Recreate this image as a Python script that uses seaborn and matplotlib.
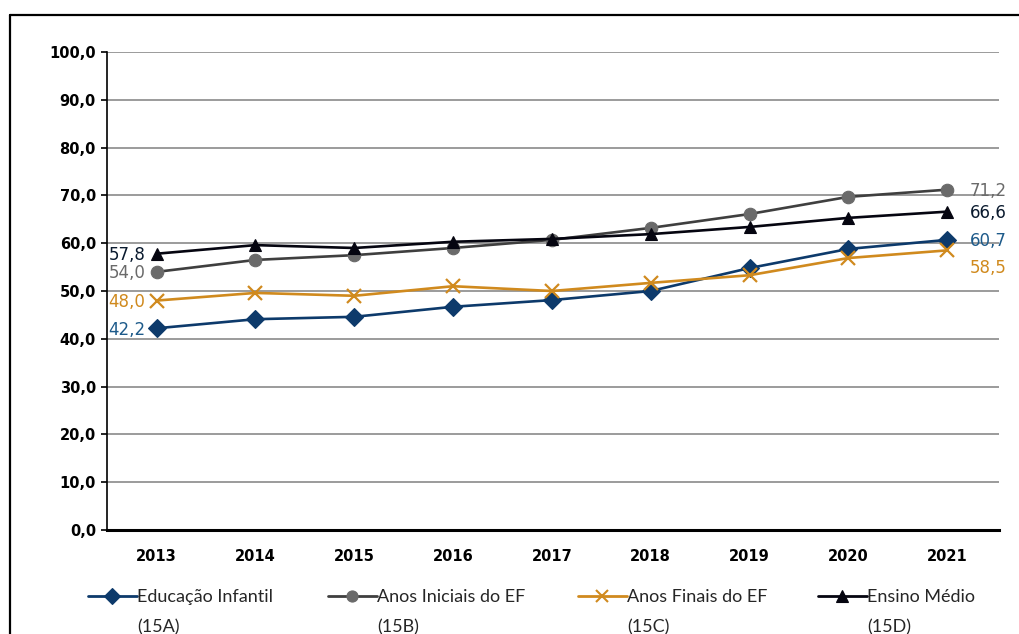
import pandas as pd
import matplotlib.pyplot as plt
import seaborn as sns
from matplotlib.lines import Line2D

# values
years = [2013, 2014, 2015, 2016, 2017, 2018, 2019, 2020, 2021]
educacao_infantil = [42.2, 44.1, 44.6, 46.7, 48.1, 50.0, 54.8, 58.8, 60.7]
anos_iniciais = [54.0, 56.5, 57.5, 59.0, 60.7, 63.2, 66.1, 69.7, 71.2]
anos_finais = [48.0, 49.6, 49.0, 51.0, 50.0, 51.7, 53.3, 56.9, 58.5]
ensino_medio = [57.8, 59.6, 59.0, 60.3, 60.9, 61.9, 63.4, 65.3, 66.6]

series_names = ["Educação Infantil", "Anos Iniciais do EF", "Anos Finais do EF", "Ensino Médio"]
series_codes = ["(15A)", "(15B)", "(15C)", "(15D)"]
line_colors = ["#0d3a6b", "#3f3f3f", "#d08a1e", "#050510"]
marker_colors = ["#0d3a6b", "#6a6a6a", "#d08a1e", "#050510"]
label_colors = ["#1d5a8a", "#6a6a6a", "#d08a1e", "#0a1a2e"]
markers = ["D", "o", "x", "^"]

rows = []
for name, vals in zip(series_names, [educacao_infantil, anos_iniciais, anos_finais, ensino_medio]):
    for yr, v in zip(years, vals):
        rows.append({"Ano": yr, "Valor": v, "Serie": name})
df = pd.DataFrame(rows)

sns.set_style("white")
plt.rcParams["font.family"] = ["DejaVu Sans"]
leg_font = ["Lato", "DejaVu Sans"]

fig = plt.figure(figsize=(10.2, 6.34), dpi=100)
ax = fig.add_axes([0.105, 0.164, 0.874, 0.754])

for name, lc, mc, mk in zip(series_names, line_colors, marker_colors, markers):
    sub = df[df["Serie"] == name]
    sns.lineplot(data=sub, x="Ano", y="Valor", ax=ax, color=lc, linewidth=1.9,
                 marker=mk, markersize=9 if mk != "x" else 10,
                 markerfacecolor=mc, markeredgecolor=mc,
                 markeredgewidth=1.6 if mk == "x" else 0.8, zorder=3)

# end labels
all_vals = [educacao_infantil, anos_iniciais, anos_finais, ensino_medio]
right_offsets = [0, 0, -12, 0]
for vals, c, dy in zip(all_vals, label_colors, right_offsets):
    ax.annotate(f"{vals[0]:.1f}".replace(".", ","), (years[0], vals[0]),
                xytext=(-8, -1), textcoords="offset points", ha="right", va="center",
                color=c, fontsize=12)
    ax.annotate(f"{vals[-1]:.1f}".replace(".", ","), (years[-1], vals[-1]),
                xytext=(16, dy - 1), textcoords="offset points", ha="left", va="center",
                color=c, fontsize=12)

ax.set_xlim(2012.5, 2021.52)
ax.set_ylim(0, 100)
ax.set_yticks(range(0, 101, 10))
ax.set_yticklabels([f"{v:.1f}".replace(".", ",") for v in range(0, 101, 10)],
                   fontsize=10.5, fontweight="bold", color="black")
ax.set_xticks(years)
ax.set_xticklabels([str(y) for y in years], fontsize=10.5, fontweight="bold", color="black")
ax.tick_params(axis="y", length=4, width=1.2, color="black", pad=4, left=True)
ax.tick_params(axis="x", length=0, pad=14)
ax.set_xlabel("")
ax.set_ylabel("")
ax.yaxis.grid(True, color="#8a8a8a", linewidth=1.2)
ax.set_axisbelow(True)
for s in ["top", "right"]:
    ax.spines[s].set_visible(False)
ax.spines["left"].set_color("black")
ax.spines["left"].set_linewidth(1.2)
ax.spines["bottom"].set_color("black")
ax.spines["bottom"].set_linewidth(2.2)

# legend: one entry per column, first line of the label next to the handle
legend_x = [88 / 1020, 328 / 1020, 578 / 1020, 818 / 1020]
legends = []
for name, lc, mc, mk, lx in zip(series_names, line_colors, marker_colors, markers, legend_x):
    h = Line2D([0], [0], color=lc, marker=mk, markerfacecolor=mc, markeredgecolor=mc,
               linewidth=2, markersize=8, markeredgewidth=1.5 if mk == "x" else 0.8)
    lg = fig.legend([h], [name], loc="center left", bbox_to_anchor=(lx, 1 - 597 / 634),
                    frameon=False, handlelength=2.7, handletextpad=0.0,
                    borderpad=0, borderaxespad=0, prop={"family": leg_font, "size": 13})
    legends.append(lg)

fig.canvas.draw()
renderer = fig.canvas.get_renderer()
inv = fig.transFigure.inverted()
for lg, code in zip(legends, series_codes):
    bb = lg.get_texts()[0].get_window_extent(renderer)
    x0, _ = inv.transform((bb.x0, bb.y0))
    fig.text(x0, 1 - 627 / 634, code, ha="left", va="center", fontsize=13, family=leg_font)

# outer frame (left and top edges visible)
fig.add_artist(Line2D([0.0098, 0.0098], [0.0, 0.976], transform=fig.transFigure,
                      color="black", linewidth=1.6))
fig.add_artist(Line2D([0.0098, 1.0], [0.976, 0.976], transform=fig.transFigure,
                      color="black", linewidth=1.6))

fig.savefig("out.png", dpi=100)
